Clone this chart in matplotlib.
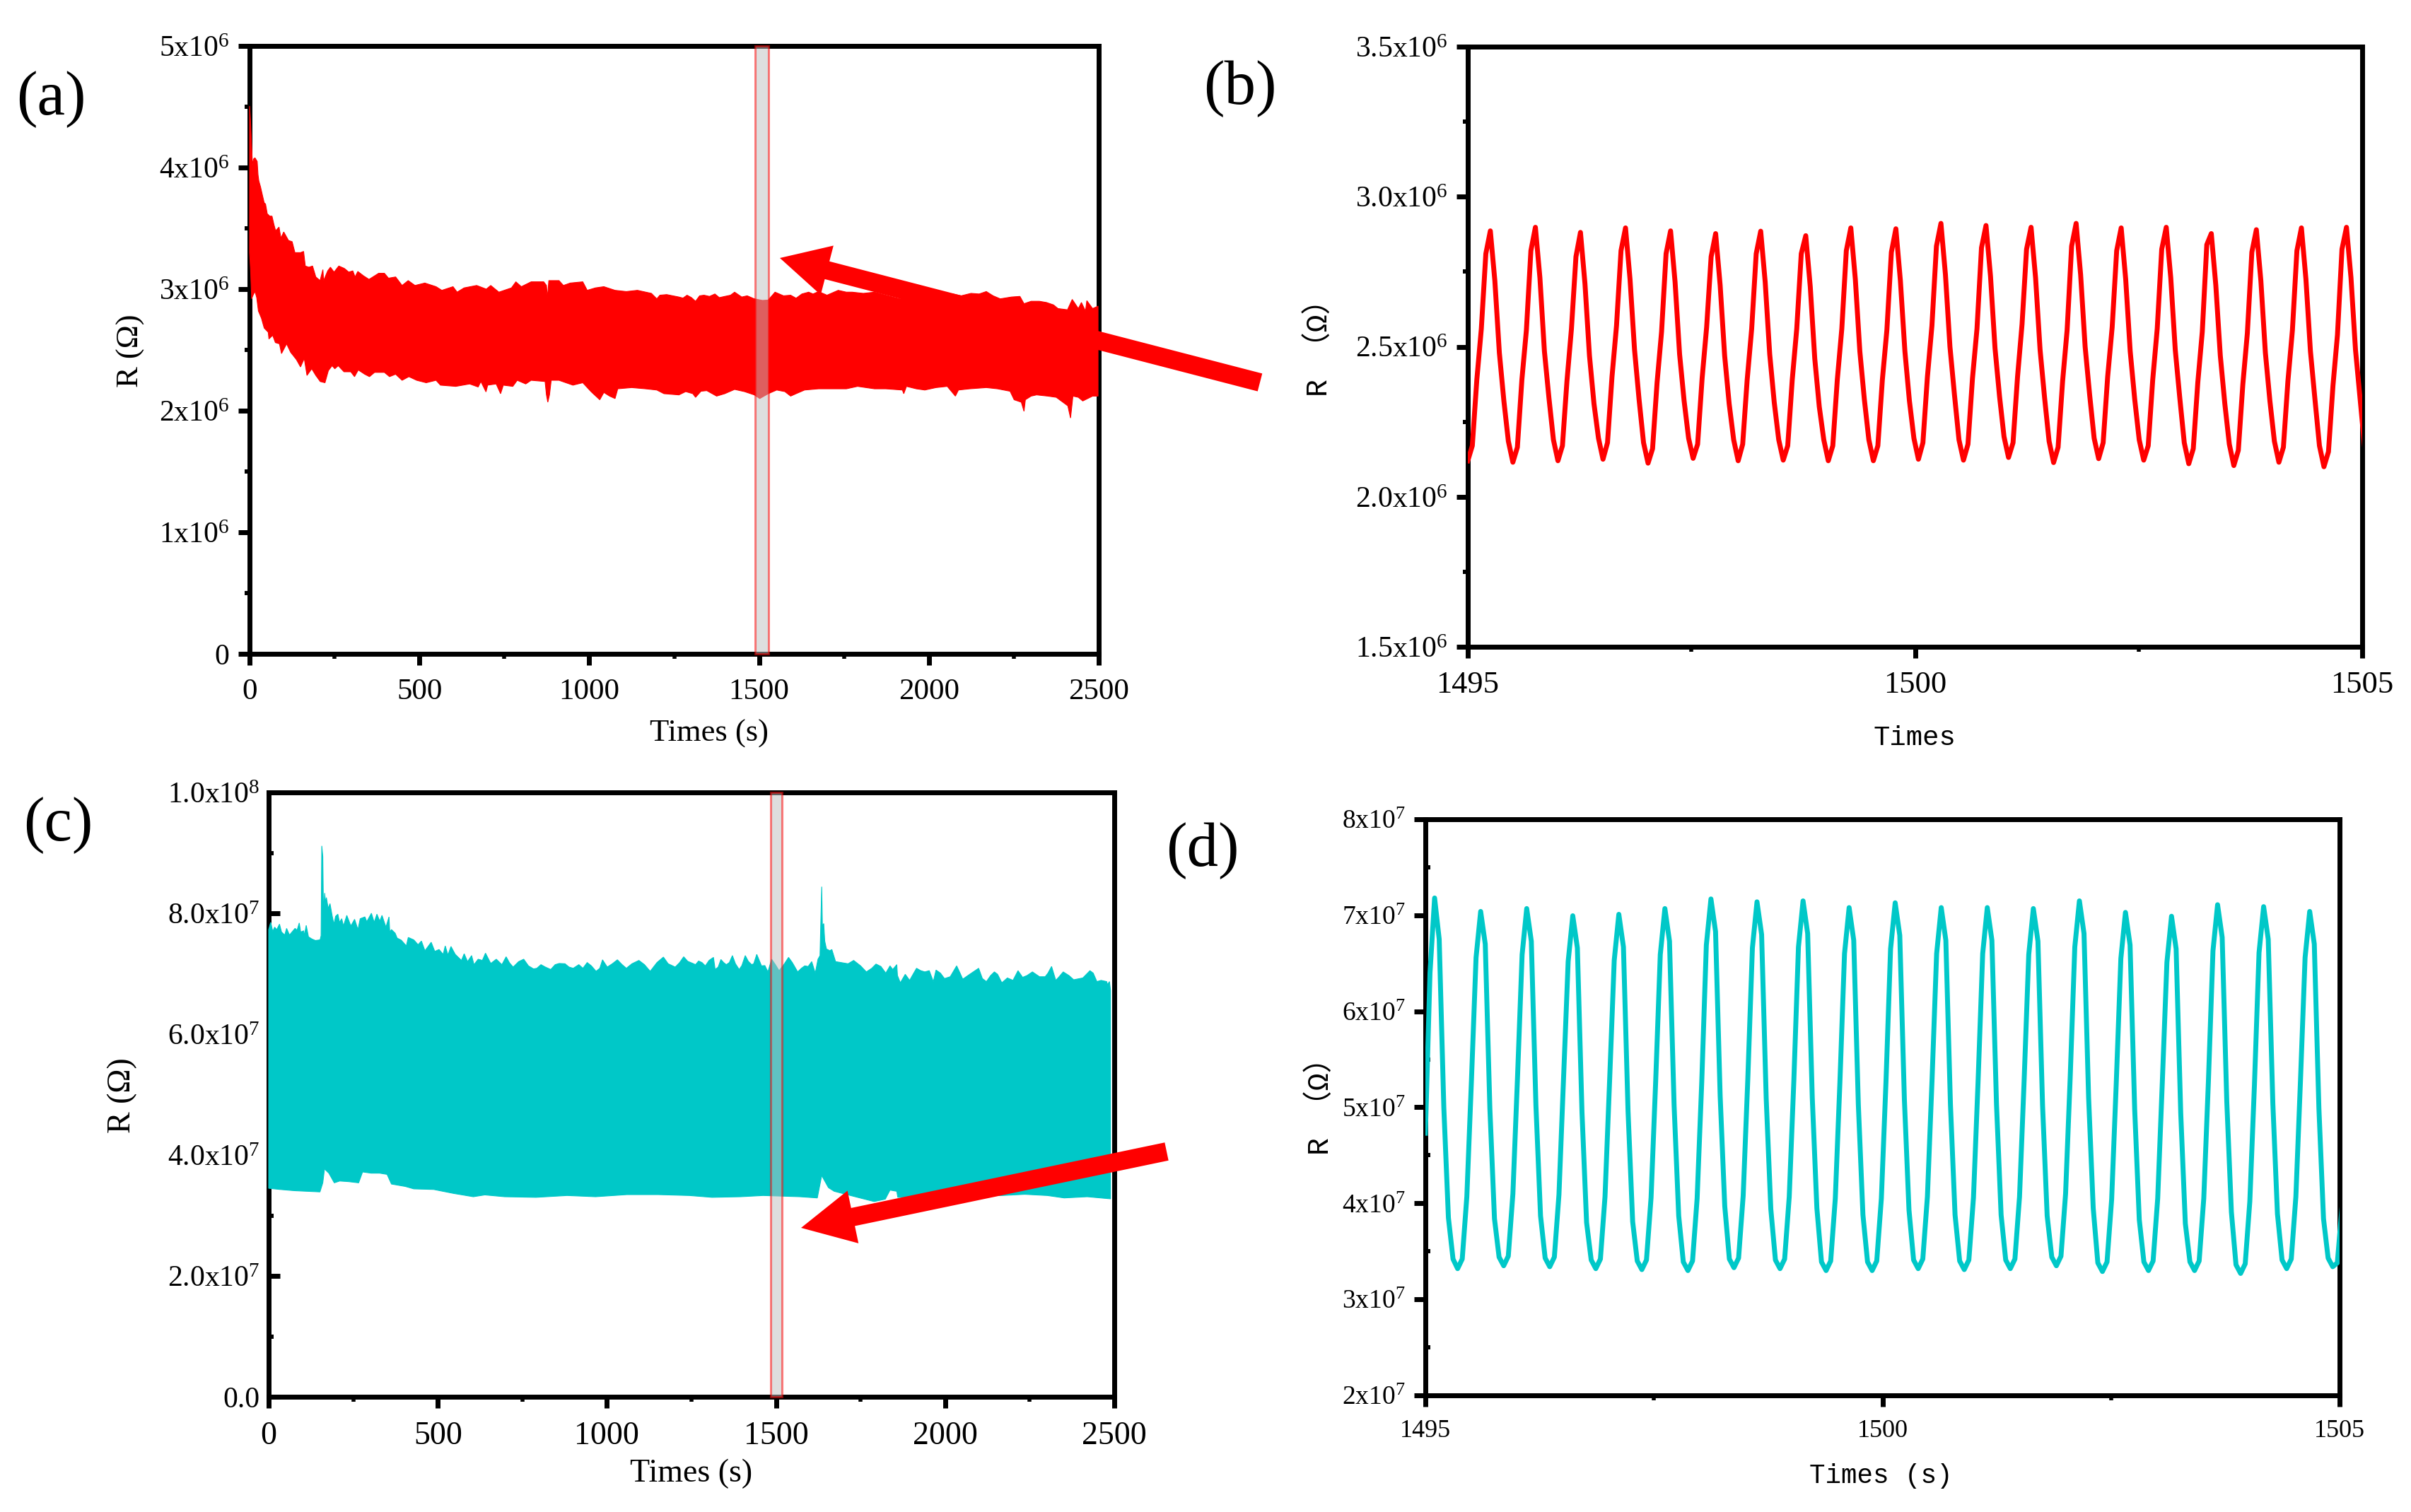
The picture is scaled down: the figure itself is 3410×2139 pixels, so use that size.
import numpy as np
import matplotlib
matplotlib.use("Agg")
import matplotlib.pyplot as plt
from matplotlib.patches import FancyArrow

plt.rcParams["font.family"] = ["Liberation Serif", "DejaVu Sans"]
plt.rcParams["mathtext.default"] = "regular"

# (a) envelope of the red trace, in 1e6 ohm
upper_t_a = [0, 2.6, 6, 8.4, 11.7, 15.8, 22.4, 24.9, 27.3, 32.3, 37.2, 43, 47, 52, 59.4, 66, 71.8, 76.7, 86.6, 92.3,
             100.6, 114.6, 125.3, 133.5, 150, 159, 164, 174.7, 185.4, 195, 207.6, 215.8, 218, 230, 238, 248.7, 262.7,
             279, 292, 304, 310.5, 318.7, 335, 351.6, 380, 397, 409, 430, 449, 467, 487, 516, 549, 566, 599, 611,
             631.5, 668.5, 697, 710, 734, 771, 784, 800, 829, 866, 874, 877, 881, 911, 924, 944, 981, 994, 1018,
             1043, 1076, 1109, 1142, 1183, 1199, 1208, 1228, 1264, 1288, 1313, 1338, 1370, 1383, 1428, 1449, 1486,
             1527, 1547, 1572, 1609, 1646, 1675, 1700, 1733, 1774, 1840, 1873, 1914, 1971, 2045, 2095, 2124, 2169,
             2210, 2268, 2280, 2325, 2367, 2380, 2408, 2422, 2440, 2449, 2461, 2465, 2482, 2498]
upper_a = [4.506, 4.39, 4.18, 4.02, 4.07, 4.08, 4.05, 3.94, 3.89, 3.84, 3.78, 3.71, 3.70, 3.62, 3.60, 3.60, 3.53, 3.48,
           3.51, 3.42, 3.47, 3.40, 3.39, 3.30, 3.30, 3.31, 3.19, 3.18, 3.19, 3.10, 3.07, 3.16, 3.07, 3.15, 3.18, 3.14,
           3.19, 3.17, 3.14, 3.15, 3.10, 3.145, 3.11, 3.08, 3.13, 3.13, 3.09, 3.10, 3.03, 3.07, 3.03, 3.05, 3.02, 2.99,
           3.02, 2.975, 3.01, 3.03, 3.0, 3.03, 2.975, 3.01, 3.06, 3.02, 3.06, 3.06, 3.03, 2.93, 3.07, 3.07, 3.03, 3.05,
           3.06, 2.99, 3.01, 3.02, 2.99, 2.98, 2.99, 2.965, 2.92, 2.95, 2.955, 2.935, 2.95, 2.90, 2.95, 2.96, 2.93,
           2.975, 2.935, 2.92, 2.91, 2.975, 2.945, 2.925, 2.975, 2.98, 2.95, 2.99, 2.975, 2.975, 2.95, 2.92, 2.935,
           2.95, 2.945, 2.965, 2.98, 2.92, 2.94, 2.88, 2.90, 2.87, 2.84, 2.83, 2.915, 2.84, 2.89, 2.82, 2.905, 2.84,
           2.86]
upper_extra_t_a = [1276, 1301, 1325, 1354, 1399, 1416, 1465, 1510, 1593, 1626, 1659, 1757, 1807, 1947, 2004, 2070,
                   2148, 2189, 2243, 2301, 2346]
upper_extra_a = [2.926, 2.93, 2.945, 2.94, 2.94, 2.95, 2.945, 2.907, 2.95, 2.96, 2.96, 2.975, 2.965, 2.925, 2.945,
                 2.96, 2.96, 2.945, 2.935, 2.90, 2.89]
lower_t_a = [0, 3, 6, 11, 16, 21, 26, 35, 43, 55, 57, 68, 76, 88, 94, 109, 121, 138, 150, 161, 169, 183, 195, 208, 222,
             232, 243, 251, 261, 278, 298, 309, 320, 339, 353, 368, 397, 412, 430, 449, 469, 492, 520, 549, 562, 607,
             648, 673, 681, 696, 701, 726, 739, 747, 775, 788, 813, 829, 870, 874, 878, 883, 888, 911, 952, 981, 1006,
             1031, 1043, 1060, 1076, 1084, 1125, 1166, 1199, 1220, 1264, 1305, 1313, 1346, 1375, 1428, 1486, 1502,
             1527, 1552, 1593, 1634, 1724, 1790, 1840, 1922, 1926, 1934, 1988, 2054, 2078, 2087, 2169, 2239, 2251,
             2272, 2280, 2284, 2317, 2375, 2409, 2417, 2424, 2453, 2482, 2498]
lower_a = [3.30, 3.15, 2.92, 2.955, 2.98, 2.93, 2.82, 2.76, 2.68, 2.645, 2.59, 2.62, 2.56, 2.55, 2.47, 2.55, 2.48, 2.42,
           2.36, 2.43, 2.29, 2.345, 2.29, 2.24, 2.23, 2.33, 2.37, 2.345, 2.37, 2.32, 2.32, 2.28, 2.335, 2.30, 2.28,
           2.315, 2.315, 2.28, 2.30, 2.25, 2.28, 2.25, 2.23, 2.25, 2.21, 2.20, 2.22, 2.195, 2.24, 2.155, 2.21, 2.22,
           2.14, 2.21, 2.20, 2.25, 2.22, 2.25, 2.24, 2.13, 2.07, 2.13, 2.25, 2.25, 2.21, 2.23, 2.155, 2.09, 2.15, 2.12,
           2.10, 2.18, 2.19, 2.18, 2.17, 2.14, 2.13, 2.14, 2.11, 2.165, 2.12, 2.175, 2.13, 2.10, 2.14, 2.17, 2.12, 2.17,
           2.18, 2.20, 2.18, 2.17, 2.14, 2.20, 2.17, 2.20, 2.12, 2.17, 2.19, 2.16, 2.09, 2.07, 1.995, 2.09, 2.13, 2.11,
           2.04, 1.94, 2.12, 2.08, 2.12, 2.12]
lower_extra_t_a = [1284, 1329, 1399, 1457, 1576, 1609, 1675, 1757, 1873, 1963, 2021, 2120, 2202, 2301, 2350, 2440]
lower_extra_a = [2.157, 2.16, 2.14, 2.157, 2.157, 2.14, 2.18, 2.18, 2.18, 2.18, 2.19, 2.18, 2.18, 2.12, 2.12, 2.11]

# (b) red trace sampled over 1495-1505 s, in 1e6 ohm, one row per cycle
values_b = [
    2.12, 2.17, 2.39, 2.56, 2.81, 2.886, 2.72, 2.48, 2.32, 2.185,
    2.115, 2.165, 2.39, 2.555, 2.82, 2.898, 2.73, 2.485, 2.33, 2.19,
    2.12, 2.17, 2.385, 2.56, 2.80, 2.881, 2.71, 2.47, 2.31, 2.195,
    2.125, 2.18, 2.40, 2.57, 2.82, 2.896, 2.725, 2.49, 2.325, 2.18,
    2.112, 2.16, 2.38, 2.55, 2.81, 2.886, 2.715, 2.475, 2.32, 2.195,
    2.128, 2.175, 2.395, 2.565, 2.80, 2.877, 2.705, 2.47, 2.31, 2.19,
    2.12, 2.175, 2.39, 2.56, 2.81, 2.885, 2.715, 2.475, 2.315, 2.19,
    2.122, 2.17, 2.39, 2.56, 2.81, 2.87, 2.70, 2.46, 2.30, 2.19,
    2.12, 2.17, 2.39, 2.56, 2.82, 2.896, 2.725, 2.485, 2.325, 2.19,
    2.12, 2.17, 2.39, 2.555, 2.815, 2.893, 2.72, 2.485, 2.32, 2.195,
    2.125, 2.18, 2.40, 2.57, 2.835, 2.911, 2.74, 2.50, 2.34, 2.19,
    2.122, 2.175, 2.395, 2.56, 2.83, 2.904, 2.735, 2.495, 2.335, 2.20,
    2.131, 2.18, 2.40, 2.575, 2.825, 2.898, 2.73, 2.49, 2.33, 2.185,
    2.114, 2.165, 2.385, 2.555, 2.835, 2.911, 2.74, 2.50, 2.34, 2.195,
    2.127, 2.18, 2.40, 2.565, 2.82, 2.896, 2.725, 2.485, 2.325, 2.19,
    2.122, 2.17, 2.39, 2.56, 2.825, 2.898, 2.73, 2.49, 2.33, 2.18,
    2.11, 2.16, 2.38, 2.55, 2.84, 2.877, 2.705, 2.47, 2.31, 2.175,
    2.104, 2.155, 2.375, 2.545, 2.815, 2.89, 2.72, 2.48, 2.32, 2.185,
    2.115, 2.165, 2.385, 2.555, 2.82, 2.896, 2.725, 2.485, 2.325, 2.17,
    2.10, 2.15, 2.37, 2.54, 2.825, 2.898, 2.73, 2.49, 2.33, 2.17,
]
sample_step_b = 0.05038

# (c) envelope of the cyan trace, in 1e7 ohm
upper_t_c = [0, 6, 12, 17.7, 24, 32, 38, 47.5, 53, 61.5, 78, 84, 90.4, 94.6, 103.7, 105, 111, 117.7, 127.6, 138, 152,
             155, 157, 160, 162, 165.6, 168, 170.6, 176, 181.3, 188, 193, 197.9, 204.5, 209.5, 216, 221, 231, 243, 254,
             264, 270.6, 284.6, 290, 303.7, 312, 320, 328.5, 335, 346.7, 355.7, 358, 363, 374, 379.7, 392, 407, 412.7,
             429, 441.7, 451.6, 462, 480.5, 491, 503.7, 516, 522, 530, 539, 551.6, 570, 578, 588, 600, 607, 619.4,
             631.8, 641, 656.6, 673, 689.6, 702, 722.7, 754, 783, 805, 834, 859, 900.4, 941.7, 968, 987, 1001, 1031,
             1057.5, 1094.6, 1128, 1167, 1202, 1227, 1254, 1271, 1291, 1315, 1320, 1337, 1353, 1371, 1391, 1409, 1428,
             1443, 1476, 1487, 1509, 1537, 1564, 1585, 1605.5, 1616, 1624, 1630, 1635, 1637, 1641, 1644, 1649, 1659,
             1665, 1676, 1692, 1729.5, 1750, 1767, 1795.5, 1824.5, 1837, 1857, 1859, 1867.5, 1882, 1895, 1915.4, 1940,
             1965, 1973, 1998, 2034, 2052, 2099, 2122, 2145.5, 2167.5, 2215.4, 2229, 2258, 2295.6, 2314.6, 2327, 2349,
             2380, 2428, 2448.5, 2477.5, 2480, 2485.7, 2489]
upper_c = [7.73, 7.85, 7.70, 7.77, 7.73, 7.82, 7.69, 7.64, 7.75, 7.64, 7.75, 7.72, 7.84, 7.69, 7.71, 7.62, 7.80, 7.61,
           7.575, 7.55, 7.56, 7.63, 9.115, 8.94, 8.02, 8.335, 8.18, 8.26, 8.08, 8.16, 7.95, 7.82, 7.95, 7.985, 7.85,
           7.91, 7.79, 7.965, 7.79, 7.90, 7.73, 7.91, 7.94, 7.86, 8.00, 7.85, 7.985, 7.87, 7.965, 7.77, 7.94, 7.69,
           7.73, 7.67, 7.59, 7.555, 7.46, 7.60, 7.56, 7.48, 7.54, 7.38, 7.52, 7.37, 7.40, 7.32, 7.46, 7.31, 7.45, 7.32,
           7.22, 7.33, 7.20, 7.30, 7.15, 7.24, 7.22, 7.34, 7.17, 7.24, 7.15, 7.28, 7.11, 7.24, 7.08, 7.15, 7.07, 7.17,
           7.09, 7.185, 7.04, 7.23, 7.11, 7.23, 7.09, 7.22, 7.04, 7.275, 7.11, 7.28, 7.17, 7.21, 7.13, 7.27, 7.07,
           7.235, 7.15, 7.30, 7.07, 7.30, 7.15, 7.32, 7.03, 7.24, 7.05, 7.27, 7.03, 7.13, 7.20, 7.01, 7.24, 7.30, 8.44,
           7.79, 7.83, 7.54, 7.41, 7.38, 7.40, 7.20, 7.185, 7.22, 7.13, 7.03, 7.16, 7.01, 7.13, 7.15, 6.97, 6.85, 6.99,
           6.89, 7.09, 7.03, 6.87, 7.06, 6.92, 7.13, 6.91, 7.09, 6.87, 7.03, 6.85, 7.05, 6.94, 7.03, 6.95, 7.12, 6.89,
           7.03, 6.90, 7.05, 6.87, 6.87, 6.82, 6.87, 6.72]
upper_extra_t_c = [712, 739, 768, 793, 818, 847, 876, 888, 917, 929, 954, 979, 1016, 1045, 1074, 1111, 1148, 1181, 1215,
                   1239, 1262, 1281, 1302, 1329, 1345, 1362, 1380, 1399, 1418, 1434, 1457, 1467, 1498, 1523, 1548, 1575,
                   1595, 1713, 1742, 1783, 1810, 1845, 1903, 1928, 1953, 1986, 2015, 2044, 2072.5, 2110, 2134.5, 2155,
                   2184, 2200.5, 2242, 2279, 2304, 2337, 2366, 2407, 2437.7, 2461]
upper_extra_c = [7.18, 7.20, 7.13, 7.09, 7.11, 7.15, 7.165, 7.11, 7.15, 7.09, 7.13, 7.09, 7.165, 7.15, 7.165, 7.15,
                 7.185, 7.165, 7.185, 7.205, 7.15, 7.185, 7.22, 7.11, 7.185, 7.185, 7.165, 7.135, 7.205, 7.165, 7.13,
                 7.135, 7.15, 7.15, 7.185, 7.09, 7.12, 7.165, 7.165, 7.09, 7.12, 7.07, 6.97, 7.05, 7.05, 7.01, 6.95,
                 7.01, 6.99, 6.92, 6.97, 6.99, 6.93, 6.89, 6.97, 6.95, 7.01, 6.95, 6.97, 6.93, 7.01, 6.89]
lower_t_c = [0, 34, 76, 151.6, 160, 165, 178, 194, 210, 236, 266, 277.6, 303, 328, 350, 363, 404, 429, 488, 546.4, 605,
             639, 697.6, 790, 882.4, 966.4, 1059, 1151, 1243.6, 1311, 1395, 1462, 1571, 1622, 1635, 1655, 1672, 1748,
             1790, 1823, 1837, 1857, 1860, 2016, 2168, 2235, 2302, 2352, 2420, 2489]
lower_c = [3.45, 3.43, 3.41, 3.39, 3.54, 3.77, 3.70, 3.54, 3.57, 3.56, 3.54, 3.72, 3.70, 3.70, 3.68, 3.52, 3.48, 3.44,
           3.43, 3.365, 3.31, 3.34, 3.31, 3.30, 3.33, 3.31, 3.345, 3.345, 3.33, 3.30, 3.31, 3.33, 3.31, 3.29, 3.66,
           3.46, 3.40, 3.29, 3.23, 3.27, 3.42, 3.40, 3.30, 3.31, 3.33, 3.35, 3.33, 3.29, 3.31, 3.275]

# (d) cyan trace sampled over 1495-1505 s, in 1e7 ohm
values_d = [
    4.73, 6.4, 7.18, 6.75, 5.0, 3.85, 3.42,
    3.32, 3.42, 4.07, 5.28, 6.56, 7.04, 6.70, 4.99, 3.84, 3.44,
    3.35, 3.45, 4.10, 5.31, 6.59, 7.07, 6.73, 5.02, 3.87, 3.43,
    3.34, 3.44, 4.09, 5.30, 6.52, 6.995, 6.66, 4.95, 3.80, 3.41,
    3.32, 3.42, 4.07, 5.28, 6.53, 7.01, 6.67, 4.96, 3.81, 3.40,
    3.31, 3.41, 4.06, 5.27, 6.59, 7.07, 6.73, 5.02, 3.87, 3.39,
    3.30, 3.40, 4.05, 5.26, 6.69, 7.17, 6.83, 5.12, 3.97, 3.42,
    3.33, 3.43, 4.08, 5.29, 6.66, 7.14, 6.80, 5.09, 3.94, 3.41,
    3.32, 3.42, 4.07, 5.28, 6.67, 7.15, 6.81, 5.10, 3.95, 3.39,
    3.30, 3.40, 4.05, 5.26, 6.60, 7.08, 6.74, 5.03, 3.88, 3.39,
    3.30, 3.40, 4.05, 5.26, 6.65, 7.13, 6.79, 5.08, 3.93, 3.41,
    3.32, 3.42, 4.07, 5.28, 6.60, 7.08, 6.74, 5.03, 3.88, 3.40,
    3.31, 3.41, 4.06, 5.27, 6.60, 7.08, 6.74, 5.03, 3.88, 3.41,
    3.32, 3.42, 4.07, 5.28, 6.59, 7.07, 6.73, 5.02, 3.87, 3.44,
    3.35, 3.45, 4.10, 5.31, 6.67, 7.15, 6.81, 5.10, 3.95, 3.38,
    3.29, 3.39, 4.04, 5.25, 6.55, 7.03, 6.69, 4.98, 3.83, 3.39,
    3.30, 3.40, 4.05, 5.26, 6.51, 6.99, 6.65, 4.94, 3.79, 3.39,
    3.30, 3.40, 4.05, 5.26, 6.63, 7.11, 6.77, 5.06, 3.91, 3.36,
    3.27, 3.37, 4.02, 5.23, 6.61, 7.09, 6.75, 5.04, 3.89, 3.41,
    3.32, 3.42, 4.07, 5.28, 6.56, 7.04, 6.70, 4.99, 3.84, 3.43,
    3.34, 3.38, 3.95,
]
sample_step_d = 0.05038

# ticks and tick labels
long_x_ticks = [0, 500, 1000, 1500, 2000, 2500]
long_x_minor = [250, 750, 1250, 1750, 2250]
zoom_x_ticks = [1495, 1500, 1505]
zoom_x_minor = [1497.5, 1502.5]

yticks_a = [0, 1e6, 2e6, 3e6, 4e6, 5e6]
ylabels_a = ["0", "1x10$^{6}$", "2x10$^{6}$", "3x10$^{6}$", "4x10$^{6}$", "5x10$^{6}$"]
yminor_a = [0.5e6, 1.5e6, 2.5e6, 3.5e6, 4.5e6]
yticks_b = [1.5e6, 2.0e6, 2.5e6, 3.0e6, 3.5e6]
ylabels_b = ["1.5x10$^{6}$", "2.0x10$^{6}$", "2.5x10$^{6}$", "3.0x10$^{6}$", "3.5x10$^{6}$"]
yminor_b = [1.75e6, 2.25e6, 2.75e6, 3.25e6]
yticks_c = [0, 2e7, 4e7, 6e7, 8e7, 1e8]
ylabels_c = ["0.0", "2.0x10$^{7}$", "4.0x10$^{7}$", "6.0x10$^{7}$", "8.0x10$^{7}$", "1.0x10$^{8}$"]
yminor_c = [1e7, 3e7, 5e7, 7e7, 9e7]
yticks_d = [2e7, 3e7, 4e7, 5e7, 6e7, 7e7, 8e7]
ylabels_d = ["2x10$^{7}$", "3x10$^{7}$", "4x10$^{7}$", "5x10$^{7}$", "6x10$^{7}$", "7x10$^{7}$", "8x10$^{7}$"]
yminor_d = [2.5e7, 3.5e7, 4.5e7, 5.5e7, 6.5e7, 7.5e7]

RED = "#ff0000"
CYAN = "#00c8c8"
W, H = 3410, 2139
mono = ["Liberation Mono", "Noto Sans CJK SC"]

fig = plt.figure(figsize=(W / 100, H / 100), dpi=100, facecolor="white")


def make_axes(left, right, top, bottom):
    ax = fig.add_axes([left / W, 1 - bottom / H, (right - left) / W, (bottom - top) / H])
    for sp in ax.spines.values():
        sp.set_linewidth(5)
    ax.box = (left, right, top, bottom)
    return ax


def set_ticks(ax, xt, xlab, xm, yt, ylab, ym, ydir, ymdir, xsize, ysize, xpad=13, ypad=9):
    ax.set_xticks(xt)
    ax.set_xticklabels(xlab)
    ax.set_xticks(xm, minor=True)
    ax.set_yticks(yt)
    ax.set_yticklabels(ylab)
    ax.set_yticks(ym, minor=True)
    ax.tick_params(axis="x", which="major", direction="out", length=11.5, width=5, labelsize=xsize, pad=xpad)
    ax.tick_params(axis="x", which="minor", direction="out", length=5, width=4)
    ax.tick_params(axis="y", which="major", direction=ydir, length=11.5, width=5, labelsize=ysize, pad=ypad)
    ax.tick_params(axis="y", which="minor", direction=ymdir, length=5, width=4.3)


def put_labels(ax, xlabel, xpos, ylabel, ypos, size, family=None, ysize=None):
    left, right, top, bottom = ax.box
    kw = {"family": family} if family else {}
    ax.set_xlabel(xlabel, fontsize=size, va="center", ha="center", **kw)
    ax.xaxis.set_label_coords((xpos[0] - left) / (right - left), (bottom - xpos[1]) / (bottom - top))
    ax.set_ylabel(ylabel, fontsize=ysize or size, va="center", ha="center", **kw)
    ax.yaxis.set_label_coords((ypos[0] - left) / (right - left), (bottom - ypos[1]) / (bottom - top))


def merged(t, v, extra_t=(), extra_v=()):
    t = np.r_[t, extra_t]
    v = np.r_[v, extra_v]
    order = np.argsort(t)
    return t[order], v[order]


def envelope(ax, upper, lower, scale, color):
    # outline of the band: along the top edge, back along the bottom edge
    xs = np.r_[upper[0], lower[0][::-1]]
    ys = np.r_[upper[1], lower[1][::-1]] * scale
    ax.fill(xs, ys, color=color, linewidth=0.8, zorder=3, clip_on=False)


def selection(ax, t0, t1):
    ax.axvspan(t0, t1, facecolor=(190 / 255, 190 / 255, 190 / 255, 0.5), edgecolor=(1, 0, 0, 0.5),
               linewidth=2.2, zorder=4, clip_on=False)


# panel (a)
ax_a = make_axes(353, 1554, 65, 925)
envelope(ax_a, merged(upper_t_a, upper_a, upper_extra_t_a, upper_extra_a),
         merged(lower_t_a, lower_a, lower_extra_t_a, lower_extra_a), 1e6, RED)
selection(ax_a, 1488, 1528)
ax_a.set_xlim(0, 2500)
ax_a.set_ylim(0, 5e6)
set_ticks(ax_a, long_x_ticks, [str(v) for v in long_x_ticks], long_x_minor, yticks_a, ylabels_a, yminor_a,
          "out", "out", 31, 30)
put_labels(ax_a, "Times (s)", (1003, 1038), "R (Ω)", (185, 496), 32)

# panel (b)
ax_b = make_axes(2076, 3341, 66, 915)
ax_b.plot(1495 + sample_step_b * np.arange(len(values_b)), np.array(values_b) * 1e6, color=RED, lw=5, zorder=3)
ax_b.set_xlim(1495, 1505)
ax_b.set_ylim(1.5e6, 3.5e6)
set_ticks(ax_b, zoom_x_ticks, [str(v) for v in zoom_x_ticks], zoom_x_minor, yticks_b, ylabels_b, yminor_b,
          "out", "out", 32, 30)
put_labels(ax_b, "Times", (2708, 1044), "R （Ω）", (1866, 482), 28, mono, ysize=30)

# panel (c)
ax_c = make_axes(380, 1576, 1121, 1976)
envelope(ax_c, merged(upper_t_c, upper_c, upper_extra_t_c, upper_extra_c), merged(lower_t_c, lower_c), 1e7, CYAN)
selection(ax_c, 1484, 1518)
ax_c.set_xlim(0, 2500)
ax_c.set_ylim(0, 1e8)
set_ticks(ax_c, long_x_ticks, [str(v) for v in long_x_ticks], long_x_minor, yticks_c, ylabels_c, yminor_c,
          "in", "in", 33, 30, ypad=9)
put_labels(ax_c, "Times (s)", (978, 2085), "R (Ω)", (173, 1550), 33)

# panel (d)
ax_d = make_axes(2016, 3309, 1159, 1974)
ax_d.plot(1495 + sample_step_d * np.arange(len(values_d)), np.array(values_d) * 1e7, color=CYAN, lw=5, zorder=3)
ax_d.set_xlim(1495, 1505)
ax_d.set_ylim(2e7, 8e7)
set_ticks(ax_d, zoom_x_ticks, [str(v) for v in zoom_x_ticks], zoom_x_minor, yticks_d, ylabels_d, yminor_d,
          "out", "in", 26, 27)
put_labels(ax_d, "Times (s)", (2660, 2088), "R （Ω）", (1868, 1555), 27, mono, ysize=30)

# arrows and panel letters sit on a sheet measured in image pixels
sheet = fig.add_axes([0, 0, 1, 1], zorder=10)
sheet.set_xlim(0, W)
sheet.set_ylim(H, 0)
sheet.axis("off")
sheet.patch.set_alpha(0)

sheet.add_patch(FancyArrow(1782, 541, 1103 - 1782, 365 - 541, width=26, head_width=72, head_length=69,
                           length_includes_head=True, color=RED, lw=0))
sheet.add_patch(FancyArrow(1650, 1629, 1133 - 1650, 1737 - 1629, width=26, head_width=76, head_length=75,
                           length_includes_head=True, color=RED, lw=0))

for letter, x, y in [("(a)", 72, 141), ("(b)", 1754, 126), ("(c)", 82, 1168), ("(d)", 1701, 1204)]:
    sheet.text(x, y, letter, fontsize=64, ha="center", va="center")

fig.savefig("out.png", dpi=100, facecolor="white")
